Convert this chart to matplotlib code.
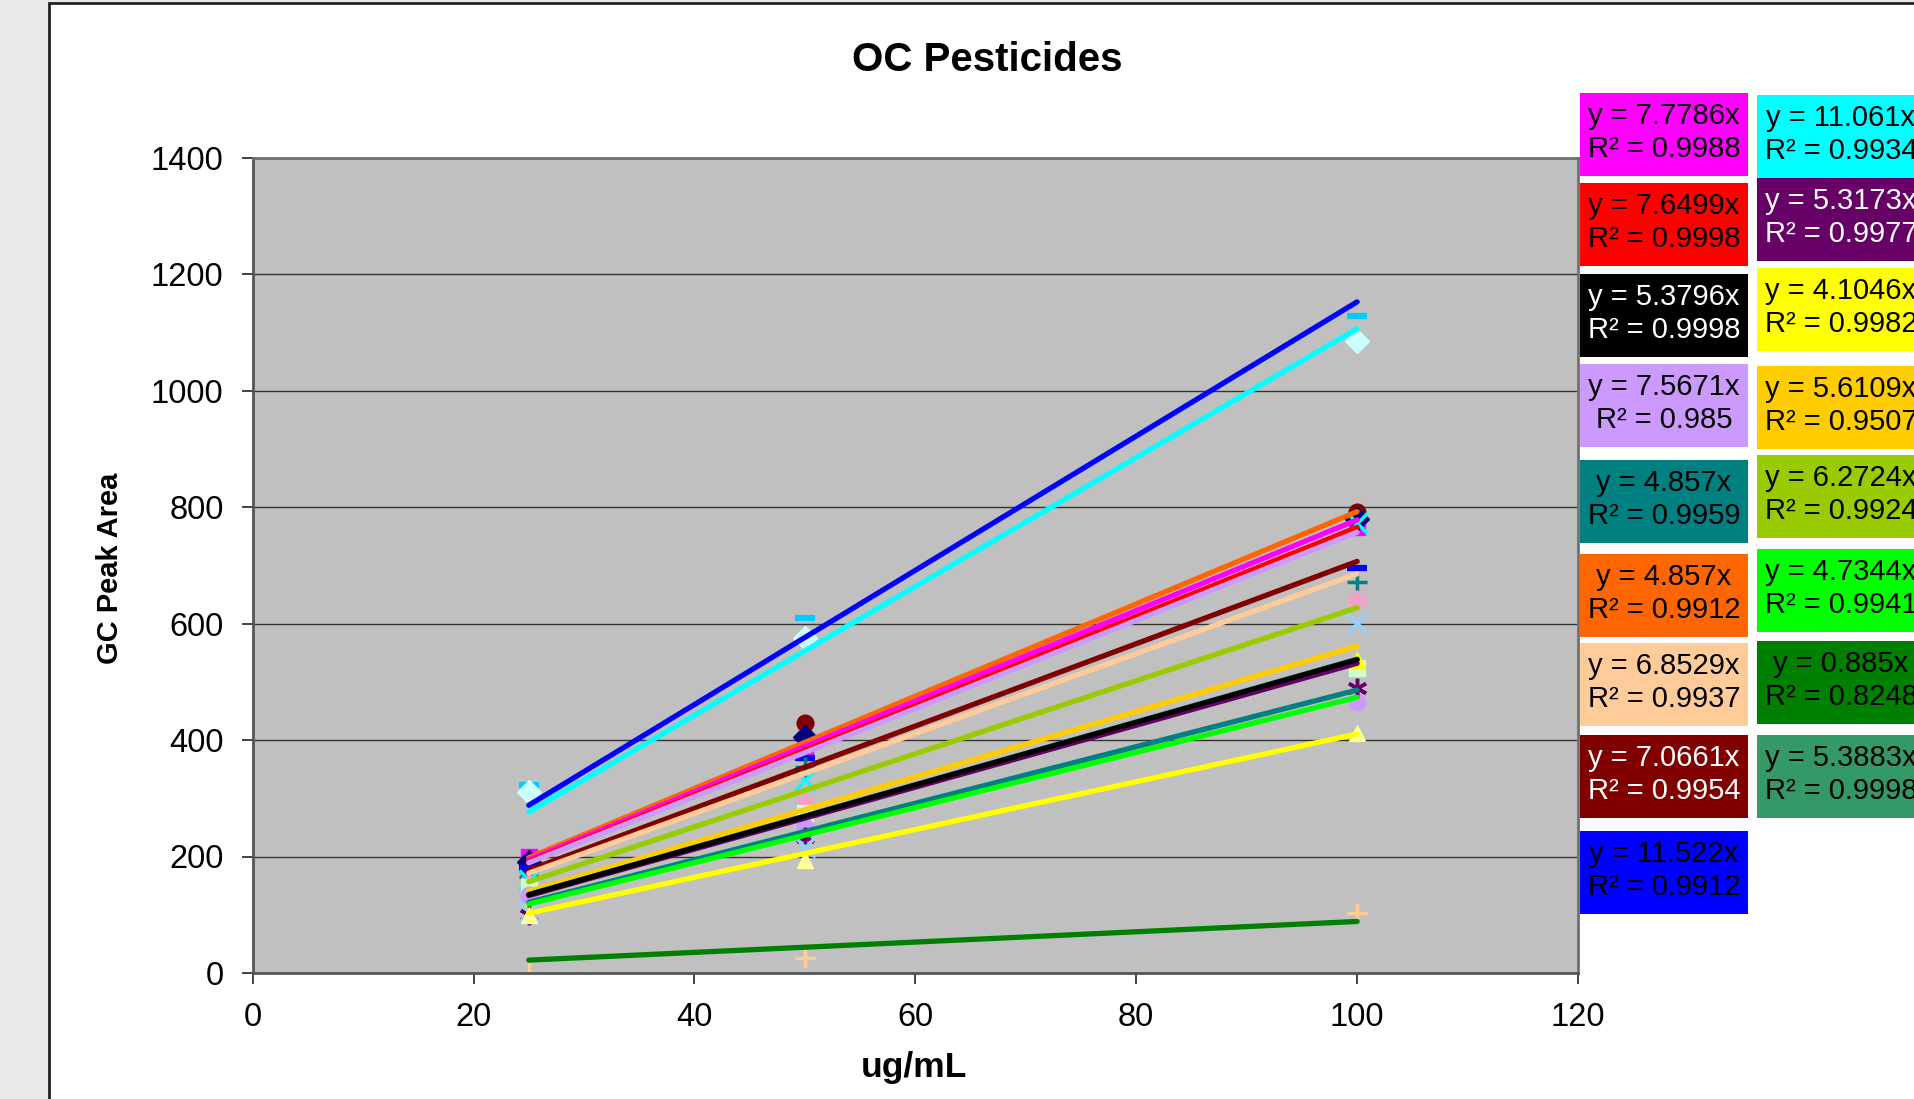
import matplotlib
matplotlib.use("Agg")
from matplotlib import pyplot as plt
from matplotlib.patches import Rectangle
import numpy as np

plt.rcParams['font.family'] = ['Liberation Sans', 'DejaVu Sans']

# ---------------- data ----------------
conc = [25, 50, 100]

# trendlines (forced through zero), drawn over the data range
line_colors = ['#0000FF', '#00FFFF', '#FF6600', '#FF00FF', '#FF0000', '#CC99FF',
               '#800000', '#FFCC99', '#99CC00', '#FFCC00', '#339966', '#660066',
               '#000000', '#008080', '#00FF00', '#FFFF00', '#008000']
line_slopes = [11.522, 11.061, 7.92, 7.7786, 7.6499, 7.5671,
               7.0661, 6.8529, 6.2724, 5.6109, 5.3883, 5.3173,
               5.3796, 4.857, 4.7344, 4.1046, 0.885]

# measured points (peak area at 25, 50, 100 ug/mL)
pt_colors = ['#00CCFF', '#CCFFFF', '#800000', '#FF00FF', '#000080', '#0000FF',
             '#008080', '#00FFFF', '#FF99CC', '#CCFFCC', '#FFFF00', '#CC99FF',
             '#660066', '#99CCFF', '#FFFF99', '#FFCC99']
pt_markers = ['_', 'D', 'o', 's', 'D', '_', '+', 'x', (6, 2, 0), 's', '^', 'o',
              (6, 2, 0), 'x', '^', '+']
pt_values = [[323, 610, 1128],
             [310, 575, 1085],
             [174, 430, 792],
             [200, 380, 766],
             [190, 406, 780],
             [180, 369, 695],
             [165, 354, 672],
             [160, 331, 772],
             [154, 292, 640],
             [148, 275, 524],
             [117, 257, 537],
             [134, 251, 466],
             [100, 234, 489],
             [105, 217, 601],
             [100, 194, 412],
             [0, 26, 103]]

# trendline equation boxes
col1_colors = ['#FF00FF', '#FF0000', '#000000', '#CC99FF', '#008080',
               '#FF6600', '#FFCC99', '#800000', '#0000FF']
col1_eq = ['y = 7.7786x', 'y = 7.6499x', 'y = 5.3796x', 'y = 7.5671x', 'y = 4.857x',
           'y = 4.857x', 'y = 6.8529x', 'y = 7.0661x', 'y = 11.522x']
col1_r2 = ['R² = 0.9988', 'R² = 0.9998', 'R² = 0.9998', 'R² = 0.985', 'R² = 0.9959',
           'R² = 0.9912', 'R² = 0.9937', 'R² = 0.9954', 'R² = 0.9912']
col2_colors = ['#00FFFF', '#660066', '#FFFF00', '#FFCC00', '#99CC00',
               '#00FF00', '#008000', '#339966']
col2_eq = ['y = 11.061x', 'y = 5.3173x', 'y = 4.1046x', 'y = 5.6109x', 'y = 6.2724x',
           'y = 4.7344x', 'y = 0.885x', 'y = 5.3883x']
col2_r2 = ['R² = 0.9934', 'R² = 0.9977', 'R² = 0.9982', 'R² = 0.9507', 'R² = 0.9924',
           'R² = 0.9941', 'R² = 0.8248', 'R² = 0.9998']
white_text = ['#000000', '#660066', '#800000']

W, H = 1914, 1099
fig = plt.figure(figsize=(W / 100, H / 100), dpi=100, facecolor='#EAEAEA')

# white chart area with black border
fig.patches.append(Rectangle((49 / W, -0.05), 1.2, 1.05 - 3 / H, transform=fig.transFigure,
                             facecolor='white', edgecolor='#222222', linewidth=2, zorder=-10))

ax = fig.add_axes([252.7 / W, 1 - 973 / H, (1578 - 252.7) / W, (973 - 157.5) / H])
ax.set_facecolor('#C0C0C0')

for vals, c, m in zip(pt_values, pt_colors, pt_markers):
    if m == '_':
        ax.plot(conc, vals, ls='none', marker=m, ms=15, mew=4.5, color=c, zorder=2)
    elif m in ('+', 'x') or isinstance(m, tuple):
        ax.plot(conc, vals, ls='none', marker=m, ms=14, mew=2.5, color=c, zorder=2)
    else:
        ax.plot(conc, vals, ls='none', marker=m, ms=12, color=c, mec=c, zorder=2)

xl = np.array([conc[0], conc[-1]])
for s, c in zip(line_slopes, line_colors):
    ax.plot(xl, s * xl, color=c, lw=3.8, solid_capstyle='round', zorder=3)

ax.set_xlim(0, 120)
ax.set_ylim(0, 1400)
ax.set_xticks(range(0, 121, 20))
ax.set_yticks(range(0, 1401, 200))
ax.yaxis.grid(True, color='#333333', lw=1)
ax.set_axisbelow(True)
ax.tick_params(axis='both', direction='out', length=8, width=1.2, labelsize=23.5, color='#222222')
ax.tick_params(axis='y', pad=13)
ax.tick_params(axis='x', pad=13)
for sp in ax.spines.values():
    sp.set_color('#707070')
    sp.set_linewidth(2)
ax.spines['left'].set_color('#555555')
ax.spines['bottom'].set_color('#555555')

fig.text(987 / W, 1 - 60 / H, 'OC Pesticides', ha='center', va='center',
         fontsize=29, fontweight='bold')
fig.text(914 / W, 1 - 1067 / H, 'ug/mL', ha='center', va='center',
         fontsize=25.5, fontweight='bold')
fig.text(110 / W, 1 - 568 / H, 'GC Peak Area', ha='center', va='center',
         rotation=90, fontsize=21, fontweight='bold')

# equation boxes
col1_tops = [93, 183, 274, 364, 460, 554, 643, 735, 831]
col2_tops = [95, 178, 268, 366, 455, 549, 641, 735]
bw, bh = 168, 83


def eq_box(x0, top, color, eq, r2):
    fig.patches.append(Rectangle((x0 / W, 1 - (top + bh) / H), bw / W, bh / H,
                                 transform=fig.transFigure, facecolor=color,
                                 edgecolor='none', zorder=1))
    tc = 'white' if color in white_text else 'black'
    cx = (x0 + bw / 2) / W
    fig.text(cx, 1 - (top + 23) / H, eq, ha='center', va='center', fontsize=21, color=tc)
    fig.text(cx, 1 - (top + 56) / H, r2, ha='center', va='center', fontsize=21, color=tc)


for t, c, e, r in zip(col1_tops, col1_colors, col1_eq, col1_r2):
    eq_box(1580, t, c, e, r)
for t, c, e, r in zip(col2_tops, col2_colors, col2_eq, col2_r2):
    eq_box(1757, t, c, e, r)

fig.savefig('out.png', dpi=100, facecolor=fig.get_facecolor())
